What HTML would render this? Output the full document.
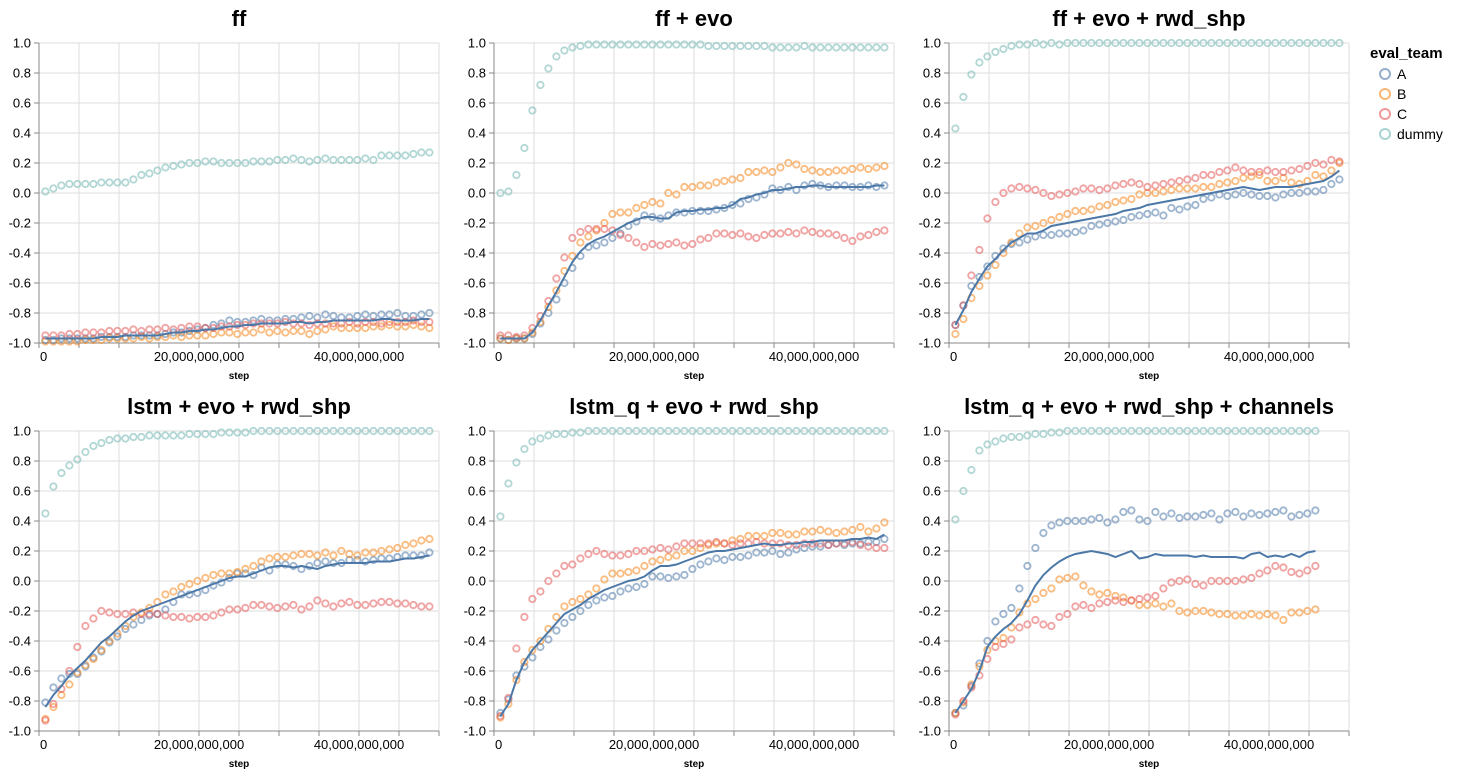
<!DOCTYPE html>
<html><head><meta charset="utf-8">
<style>
html,body{margin:0;padding:0;background:#fff;}
svg{display:block;font-family:"Liberation Sans",Arial,sans-serif;}
</style></head>
<body>
<svg id="chart" width="1472" height="776" viewBox="0 0 1472 776" xmlns="http://www.w3.org/2000/svg">
<g id="legend">
  <text x="1370" y="58" font-size="15" font-weight="bold">eval_team</text>
  <g><circle cx="1385" cy="74" r="5" fill="none" stroke="#4c78a8" stroke-opacity="0.6" stroke-width="2"/><text x="1397" y="79" font-size="14">A</text></g>
  <g><circle cx="1385" cy="94" r="5" fill="none" stroke="#f58518" stroke-opacity="0.6" stroke-width="2"/><text x="1397" y="99" font-size="14">B</text></g>
  <g><circle cx="1385" cy="114" r="5" fill="none" stroke="#e45756" stroke-opacity="0.6" stroke-width="2"/><text x="1397" y="119" font-size="14">C</text></g>
  <g><circle cx="1385" cy="134" r="5" fill="none" stroke="#72b7b2" stroke-opacity="0.6" stroke-width="2"/><text x="1397" y="139" font-size="14">dummy</text></g>
</g>
</svg>
<script>
const panelTitles = ["ff","ff + evo","ff + evo + rwd_shp","lstm + evo + rwd_shp","lstm_q + evo + rwd_shp","lstm_q + evo + rwd_shp + channels"];
const steps = [0.8,1.8,2.8,3.8,4.8,5.8,6.8,7.8,8.8,9.8,10.8,11.8,12.8,13.8,14.8,15.8,16.8,17.8,18.8,19.8,20.8,21.8,22.8,23.8,24.8,25.8,26.8,27.8,28.8,29.8,30.8,31.8,32.8,33.8,34.8,35.8,36.8,37.8,38.8,39.8,40.8,41.8,42.8,43.8,44.8,45.8,46.8,47.8,48.8];
const yTicks = [1.0,0.8,0.6,0.4,0.2,0.0,-0.2,-0.4,-0.6,-0.8,-1.0];
const xTickValues = [0,20,40];
const xTickLabels = ["0","20,000,000,000","40,000,000,000"];
const xMinorTicks = [0,5,10,15,20,25,30,35,40,45,50];

const p1A=[-0.98,-0.98,-0.97,-0.97,-0.97,-0.97,-0.97,-0.96,-0.96,-0.96,-0.96,-0.95,-0.95,-0.95,-0.95,-0.94,-0.93,-0.93,-0.92,-0.91,-0.9,-0.88,-0.87,-0.85,-0.86,-0.86,-0.85,-0.84,-0.85,-0.85,-0.84,-0.84,-0.83,-0.82,-0.83,-0.81,-0.82,-0.83,-0.83,-0.82,-0.81,-0.82,-0.81,-0.81,-0.8,-0.82,-0.82,-0.81,-0.8];
const p1B=[-0.99,-0.99,-0.99,-0.99,-0.99,-0.98,-0.98,-0.98,-0.97,-0.97,-0.97,-0.97,-0.96,-0.97,-0.96,-0.96,-0.95,-0.96,-0.95,-0.95,-0.95,-0.94,-0.93,-0.93,-0.94,-0.93,-0.93,-0.91,-0.93,-0.92,-0.93,-0.92,-0.92,-0.94,-0.92,-0.91,-0.89,-0.9,-0.9,-0.9,-0.9,-0.89,-0.89,-0.88,-0.89,-0.89,-0.88,-0.89,-0.9];
const p1C=[-0.95,-0.95,-0.95,-0.94,-0.94,-0.93,-0.93,-0.93,-0.92,-0.92,-0.92,-0.91,-0.92,-0.91,-0.91,-0.9,-0.91,-0.9,-0.89,-0.89,-0.9,-0.9,-0.89,-0.89,-0.88,-0.88,-0.87,-0.87,-0.87,-0.87,-0.86,-0.87,-0.87,-0.88,-0.87,-0.87,-0.87,-0.87,-0.86,-0.87,-0.86,-0.86,-0.87,-0.86,-0.86,-0.86,-0.85,-0.86,-0.86];
const p1D=[0.01,0.03,0.05,0.06,0.06,0.06,0.06,0.07,0.07,0.07,0.07,0.09,0.12,0.13,0.15,0.17,0.18,0.19,0.2,0.2,0.21,0.21,0.2,0.2,0.2,0.2,0.21,0.21,0.21,0.22,0.22,0.23,0.22,0.21,0.22,0.23,0.22,0.22,0.22,0.22,0.23,0.22,0.25,0.25,0.25,0.25,0.26,0.27,0.27];
const p1L=[-0.97,-0.97,-0.97,-0.97,-0.97,-0.97,-0.97,-0.96,-0.96,-0.96,-0.95,-0.95,-0.95,-0.95,-0.95,-0.94,-0.93,-0.93,-0.92,-0.92,-0.91,-0.91,-0.9,-0.89,-0.89,-0.88,-0.88,-0.87,-0.87,-0.87,-0.87,-0.86,-0.86,-0.87,-0.86,-0.86,-0.85,-0.85,-0.85,-0.85,-0.85,-0.85,-0.84,-0.84,-0.85,-0.85,-0.85,-0.84,-0.84];

const p2A=[-0.97,-0.98,-0.97,-0.97,-0.94,-0.87,-0.8,-0.71,-0.6,-0.5,-0.42,-0.36,-0.35,-0.33,-0.3,-0.27,-0.22,-0.19,-0.15,-0.16,-0.17,-0.15,-0.13,-0.13,-0.12,-0.12,-0.12,-0.11,-0.1,-0.08,-0.07,-0.04,-0.03,-0.01,0.03,0.02,0.04,0.02,0.05,0.06,0.05,0.04,0.05,0.05,0.04,0.04,0.05,0.04,0.05];
const p2B=[-0.97,-0.98,-0.97,-0.97,-0.93,-0.86,-0.76,-0.65,-0.52,-0.42,-0.33,-0.29,-0.25,-0.2,-0.14,-0.13,-0.13,-0.1,-0.08,-0.06,-0.07,0.0,-0.01,0.04,0.04,0.05,0.05,0.07,0.08,0.09,0.1,0.14,0.14,0.15,0.14,0.17,0.2,0.19,0.16,0.15,0.14,0.14,0.15,0.15,0.16,0.17,0.16,0.17,0.18];
const p2C=[-0.95,-0.95,-0.96,-0.95,-0.9,-0.82,-0.72,-0.57,-0.43,-0.3,-0.26,-0.24,-0.24,-0.24,-0.25,-0.28,-0.3,-0.33,-0.36,-0.34,-0.35,-0.34,-0.33,-0.35,-0.34,-0.31,-0.3,-0.27,-0.27,-0.28,-0.27,-0.29,-0.3,-0.28,-0.27,-0.27,-0.26,-0.27,-0.25,-0.26,-0.27,-0.27,-0.28,-0.3,-0.32,-0.29,-0.28,-0.26,-0.25];
const p2D=[0.0,0.01,0.12,0.3,0.55,0.72,0.83,0.91,0.95,0.97,0.98,0.99,0.99,0.99,0.99,0.99,0.99,0.99,0.99,0.99,0.99,0.99,0.99,0.99,0.99,0.99,0.98,0.98,0.98,0.98,0.98,0.98,0.98,0.98,0.97,0.97,0.97,0.97,0.98,0.97,0.97,0.97,0.97,0.97,0.97,0.97,0.97,0.97,0.97];
const p2L=[-0.97,-0.97,-0.97,-0.97,-0.93,-0.85,-0.75,-0.66,-0.56,-0.46,-0.39,-0.34,-0.31,-0.29,-0.26,-0.23,-0.2,-0.18,-0.16,-0.16,-0.17,-0.17,-0.13,-0.12,-0.12,-0.11,-0.11,-0.1,-0.1,-0.08,-0.04,-0.03,-0.01,0.0,0.02,0.02,0.03,0.04,0.04,0.05,0.05,0.04,0.04,0.04,0.04,0.04,0.04,0.05,0.05];

const p3A=[-0.88,-0.75,-0.62,-0.56,-0.49,-0.42,-0.37,-0.34,-0.33,-0.31,-0.29,-0.28,-0.28,-0.27,-0.27,-0.26,-0.25,-0.22,-0.21,-0.2,-0.19,-0.18,-0.16,-0.15,-0.14,-0.13,-0.15,-0.1,-0.11,-0.09,-0.08,-0.04,-0.03,-0.01,-0.02,-0.01,0.0,-0.01,-0.02,-0.02,-0.03,-0.01,0.0,0.0,0.01,0.01,0.02,0.06,0.09];
const p3B=[-0.94,-0.84,-0.7,-0.62,-0.55,-0.48,-0.4,-0.33,-0.27,-0.23,-0.22,-0.2,-0.18,-0.16,-0.14,-0.12,-0.12,-0.11,-0.09,-0.08,-0.06,-0.05,-0.04,-0.01,0.0,0.0,0.01,0.02,0.03,0.03,0.03,0.04,0.04,0.06,0.07,0.08,0.1,0.11,0.12,0.08,0.08,0.1,0.07,0.06,0.08,0.12,0.11,0.15,0.2];
const p3C=[-0.88,-0.75,-0.55,-0.38,-0.17,-0.06,0.0,0.03,0.04,0.03,0.02,0.0,-0.02,-0.01,0.0,0.01,0.03,0.03,0.02,0.03,0.05,0.06,0.07,0.06,0.04,0.05,0.06,0.07,0.08,0.09,0.1,0.12,0.12,0.14,0.15,0.17,0.15,0.14,0.14,0.15,0.14,0.14,0.15,0.16,0.18,0.2,0.19,0.22,0.21];
const p3D=[0.43,0.64,0.79,0.87,0.91,0.94,0.96,0.98,0.99,0.99,1,0.99,1,0.99,1,1,1,1,1,1,1,1,1,1,1,1,1,1,1,1,1,1,1,1,1,1,1,1,1,1,1,1,1,1,1,1,1,1,1];
const p3L=[-0.88,-0.78,-0.66,-0.57,-0.49,-0.44,-0.38,-0.33,-0.3,-0.27,-0.27,-0.25,-0.22,-0.21,-0.2,-0.19,-0.18,-0.17,-0.16,-0.15,-0.14,-0.12,-0.11,-0.1,-0.08,-0.07,-0.06,-0.05,-0.04,-0.03,-0.02,-0.01,0.0,0.01,0.02,0.03,0.04,0.03,0.02,0.03,0.04,0.04,0.04,0.05,0.06,0.07,0.08,0.11,0.15];

const p4A=[-0.81,-0.71,-0.65,-0.62,-0.62,-0.57,-0.51,-0.47,-0.41,-0.37,-0.32,-0.29,-0.26,-0.23,-0.22,-0.19,-0.14,-0.09,-0.09,-0.08,-0.06,-0.03,-0.01,0.02,0.05,0.05,0.04,0.09,0.07,0.11,0.11,0.1,0.08,0.1,0.12,0.13,0.12,0.12,0.14,0.14,0.13,0.14,0.15,0.15,0.16,0.17,0.17,0.17,0.19];
const p4B=[-0.92,-0.84,-0.76,-0.69,-0.61,-0.56,-0.52,-0.46,-0.4,-0.35,-0.3,-0.24,-0.21,-0.18,-0.14,-0.09,-0.07,-0.04,-0.02,0.0,0.02,0.04,0.05,0.05,0.06,0.08,0.1,0.13,0.15,0.16,0.16,0.17,0.18,0.18,0.17,0.19,0.17,0.2,0.18,0.17,0.19,0.19,0.2,0.21,0.22,0.24,0.25,0.27,0.28];
const p4C=[-0.93,-0.82,-0.72,-0.6,-0.44,-0.3,-0.25,-0.2,-0.21,-0.22,-0.22,-0.21,-0.22,-0.22,-0.22,-0.23,-0.24,-0.24,-0.25,-0.24,-0.24,-0.23,-0.21,-0.19,-0.19,-0.18,-0.16,-0.16,-0.17,-0.18,-0.17,-0.16,-0.19,-0.17,-0.13,-0.15,-0.17,-0.15,-0.14,-0.16,-0.16,-0.15,-0.14,-0.14,-0.15,-0.15,-0.16,-0.17,-0.17];
const p4D=[0.45,0.63,0.72,0.77,0.81,0.86,0.9,0.92,0.94,0.95,0.95,0.96,0.96,0.97,0.97,0.97,0.97,0.97,0.98,0.98,0.98,0.98,0.99,0.99,0.99,0.99,1,1,1,1,1,1,1,1,1,1,1,1,1,1,1,1,1,1,1,1,1,1,1];
const p4L=[-0.84,-0.76,-0.7,-0.63,-0.58,-0.53,-0.47,-0.41,-0.37,-0.32,-0.27,-0.23,-0.2,-0.18,-0.16,-0.14,-0.12,-0.1,-0.08,-0.06,-0.04,-0.02,0.0,0.02,0.03,0.03,0.05,0.07,0.09,0.1,0.1,0.09,0.1,0.09,0.08,0.1,0.11,0.12,0.12,0.12,0.12,0.13,0.13,0.13,0.14,0.15,0.15,0.16,0.17];

const p5A=[-0.88,-0.79,-0.63,-0.57,-0.51,-0.44,-0.39,-0.33,-0.28,-0.24,-0.2,-0.16,-0.13,-0.11,-0.1,-0.07,-0.05,-0.04,-0.02,0.03,0.03,0.02,0.03,0.04,0.08,0.11,0.13,0.15,0.14,0.16,0.16,0.17,0.19,0.19,0.2,0.18,0.19,0.21,0.22,0.23,0.23,0.24,0.25,0.24,0.25,0.25,0.26,0.26,0.28];
const p5B=[-0.91,-0.82,-0.66,-0.54,-0.46,-0.4,-0.32,-0.24,-0.17,-0.14,-0.12,-0.09,-0.05,0.01,0.05,0.05,0.06,0.07,0.1,0.13,0.14,0.16,0.17,0.2,0.2,0.22,0.24,0.25,0.25,0.27,0.28,0.3,0.3,0.3,0.32,0.32,0.31,0.31,0.33,0.33,0.34,0.33,0.32,0.33,0.34,0.36,0.33,0.35,0.39];
const p5C=[-0.9,-0.78,-0.45,-0.24,-0.12,-0.07,0.0,0.05,0.1,0.11,0.15,0.18,0.2,0.18,0.17,0.17,0.18,0.2,0.2,0.21,0.22,0.21,0.23,0.25,0.25,0.25,0.25,0.26,0.25,0.24,0.25,0.25,0.26,0.25,0.25,0.25,0.24,0.24,0.25,0.25,0.25,0.24,0.25,0.25,0.26,0.24,0.23,0.22,0.22];
const p5D=[0.43,0.65,0.79,0.88,0.93,0.95,0.97,0.98,0.98,0.99,0.99,1,1,1,1,1,1,1,1,1,1,1,1,1,1,1,1,1,1,1,1,1,1,1,1,1,1,1,1,1,1,1,1,1,1,1,1,1,1];
const p5L=[-0.9,-0.82,-0.66,-0.54,-0.46,-0.4,-0.34,-0.28,-0.22,-0.19,-0.16,-0.12,-0.09,-0.06,-0.04,-0.02,0.0,0.01,0.03,0.07,0.1,0.1,0.11,0.13,0.15,0.17,0.19,0.2,0.2,0.21,0.22,0.23,0.24,0.25,0.24,0.24,0.25,0.25,0.26,0.26,0.27,0.27,0.27,0.27,0.28,0.28,0.29,0.28,0.31];

const p6A=[-0.88,-0.83,-0.7,-0.55,-0.4,-0.27,-0.22,-0.18,-0.05,0.1,0.22,0.32,0.37,0.39,0.4,0.4,0.4,0.41,0.42,0.39,0.41,0.46,0.47,0.41,0.4,0.46,0.43,0.45,0.42,0.43,0.43,0.44,0.45,0.41,0.45,0.46,0.43,0.45,0.44,0.45,0.46,0.47,0.43,0.44,0.45,0.47];
const p6B=[-0.88,-0.81,-0.69,-0.57,-0.46,-0.4,-0.38,-0.31,-0.21,-0.15,-0.12,-0.08,-0.05,0.01,0.02,0.03,-0.03,-0.07,-0.09,-0.08,-0.1,-0.11,-0.13,-0.16,-0.16,-0.15,-0.17,-0.15,-0.2,-0.21,-0.2,-0.2,-0.21,-0.22,-0.22,-0.23,-0.23,-0.22,-0.23,-0.22,-0.23,-0.26,-0.21,-0.21,-0.2,-0.19];
const p6C=[-0.89,-0.8,-0.71,-0.63,-0.52,-0.44,-0.42,-0.39,-0.31,-0.29,-0.26,-0.29,-0.3,-0.24,-0.22,-0.17,-0.16,-0.18,-0.15,-0.14,-0.13,-0.14,-0.13,-0.12,-0.11,-0.1,-0.05,-0.01,0.0,0.01,-0.02,-0.03,0.0,0.0,0.0,0.0,0.01,0.02,0.05,0.07,0.1,0.09,0.06,0.05,0.07,0.1];
const p6D=[0.41,0.6,0.74,0.87,0.91,0.93,0.95,0.96,0.96,0.97,0.98,0.98,0.99,0.99,1,1,1,1,1,1,1,1,1,1,1,1,1,1,1,1,1,1,1,1,1,1,1,1,1,1,1,1,1,1,1,1];
const p6L=[-0.88,-0.8,-0.72,-0.6,-0.44,-0.37,-0.32,-0.28,-0.22,-0.13,-0.03,0.04,0.09,0.13,0.16,0.18,0.19,0.2,0.19,0.18,0.16,0.18,0.2,0.15,0.16,0.18,0.17,0.17,0.17,0.17,0.16,0.17,0.16,0.16,0.16,0.16,0.15,0.18,0.19,0.16,0.17,0.16,0.18,0.16,0.19,0.2];

const panelSeries = [
  {A:p1A,B:p1B,C:p1C,D:p1D,L:p1L},
  {A:p2A,B:p2B,C:p2C,D:p2D,L:p2L},
  {A:p3A,B:p3B,C:p3C,D:p3D,L:p3L},
  {A:p4A,B:p4B,C:p4C,D:p4D,L:p4L},
  {A:p5A,B:p5B,C:p5C,D:p5D,L:p5L},
  {A:p6A,B:p6B,C:p6C,D:p6D,L:p6L}
];

const NS = "http://www.w3.org/2000/svg";
const svg = document.getElementById('chart');
const colors = {A:"#4c78a8",B:"#f58518",C:"#e45756",D:"#72b7b2"};
const seriesNames = {A:"a",B:"b",C:"c",D:"dummy"};
const colX = [39,494,949], rowY = [43,431], W = 400, H = 300, XMAX = 50;
function mk(tag, attrs, parent){ const e=document.createElementNS(NS,tag); for(const k in attrs) e.setAttribute(k,attrs[k]); parent.appendChild(e); return e; }

panelTitles.forEach((title, p) => {
  const x0 = colX[p%3], y0 = rowY[Math.floor(p/3)];
  const xs = v => x0 + v / XMAX * W;
  const ys = v => y0 + (1 - v) / 2 * H;
  const g = mk('g', {}, svg);
  
  
  // grid
  yTicks.forEach(t => {
    const l = mk('line', {x1:x0, x2:x0+W, y1:ys(t), y2:ys(t), stroke:"#ddd", "stroke-width":1}, g);
    
    
  });
  xMinorTicks.forEach(t => {
    const l = mk('line', {x1:xs(t), x2:xs(t), y1:y0, y2:y0+H, stroke:"#ddd", "stroke-width":1}, g);
    
    
    const tk = mk('line', {x1:xs(t), x2:xs(t), y1:y0+H, y2:y0+H+5, stroke:"#888", "stroke-width":1}, g);
    
    
  });
  // axes
  const ax = mk('line', {x1:x0, x2:x0+W, y1:y0+H, y2:y0+H, stroke:"#888", "stroke-width":1}, g);
  
  
  const ay = mk('line', {x1:x0, x2:x0, y1:y0, y2:y0+H, stroke:"#888", "stroke-width":1}, g);
  
  
  yTicks.forEach(t => {
    const tk = mk('line', {x1:x0-5, x2:x0, y1:ys(t), y2:ys(t), stroke:"#888", "stroke-width":1}, g);
    
    
    const tx = mk('text', {x:x0-8, y:ys(t)+4.5, "text-anchor":"end", "font-size":13, fill:"#000"}, g);
    
    
    tx.textContent = t.toFixed(1);
  });
  xTickValues.forEach((t, i) => {
    const tx = mk('text', {x:xs(t), y:y0+H+18, "text-anchor": i===0 ? "start" : "middle", "font-size":13, fill:"#000"}, g);
    if (i===0) tx.setAttribute('x', xs(t)+1);
    
    
    tx.textContent = xTickLabels[i];
  });
  const xt = mk('text', {x:x0+W/2, y:y0+H+36, "text-anchor":"middle", "font-size":10, "font-weight":"bold"}, g);
  
  
  xt.textContent = 'step';
  const tt = mk('text', {x:x0+W/2, y:y0-17, "text-anchor":"middle", "font-size":22, "font-weight":"bold"}, g);
  
  
  tt.textContent = title;
  // points
  const s = panelSeries[p];
  ["A","B","C","D"].forEach(k => {
    s[k].forEach((v, i) => {
      const c = mk('circle', {cx:xs(steps[i]), cy:ys(v), r:3.2, fill:"none", stroke:colors[k], "stroke-width":1.8, "stroke-opacity":0.55}, g);
      
      
    });
  });
  const d = s.L.map((v, i) => (i ? 'L' : 'M') + xs(steps[i]).toFixed(1) + ',' + ys(v).toFixed(1)).join('');
  const path = mk('path', {d:d, fill:"none", stroke:"#4c78a8", "stroke-width":2}, g);
  
  
});
</script>
</body></html>
